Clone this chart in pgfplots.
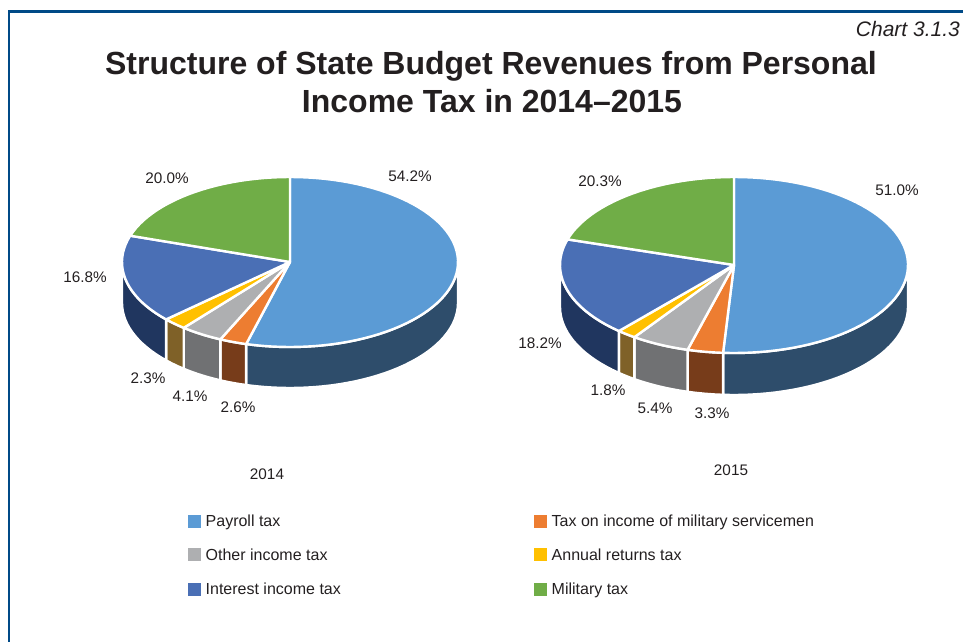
\documentclass[border=0pt]{standalone}
\usepackage{pgfplots}
\pgfplotsset{compat=1.18}
\usepackage{fontspec}
\setmainfont{Liberation Sans}

\definecolor{ink}{HTML}{231F20}
\definecolor{frame}{HTML}{004A87}
\definecolor{top1}{HTML}{5B9BD5}\definecolor{side1}{HTML}{2E4D6B}
\definecolor{top2}{HTML}{ED7D31}\definecolor{side2}{HTML}{773C1A}
\definecolor{top3}{HTML}{AEAFB1}\definecolor{side3}{HTML}{707173}
\definecolor{top4}{HTML}{FFC000}\definecolor{side4}{HTML}{7F6128}
\definecolor{top5}{HTML}{4A6FB5}\definecolor{side5}{HTML}{20365F}
\definecolor{top6}{HTML}{70AD47}\definecolor{side6}{HTML}{70AD47}

% Shares of personal income tax revenue, percent
\def\sharesA{54.2,2.6,4.1,2.3,16.8,20.0}
\def\sharesB{51.0,3.3,5.4,1.8,18.2,20.3}

% Append an elliptical arc to \ptlist: cx, cy, rx, ry, from, to, vertical offset
\newcommand{\appendArc}[7]{%
  \pgfmathtruncatemacro\nseg{max(1,ceil(abs(#6-#5)/3))}%
  \foreach \i in {0,...,\nseg}{%
    \pgfmathsetmacro\ang{#5+(#6-(#5))*\i/\nseg}%
    \pgfmathsetmacro\px{#1+#3*sin(\ang)}%
    \pgfmathsetmacro\py{#2-#4*cos(\ang)+#7}%
    \xdef\ptlist{\ptlist (\px,\py)}%
  }%
}
\newcommand{\plotPolygon}[1]{%
  \edef\doplot{\noexpand\addplot[fill=#1,draw=white,line width=2.4pt,line join=round]
    coordinates {\ptlist} -- cycle;}%
  \doplot
}
% Extruded pie: cx, cy, rx, ry, depth, shares
\newcommand{\drawPie}[6]{%
  \gdef\cum{0}%
  \foreach \v [count=\k] in #6{%
    \pgfmathsetmacro\ta{\cum*3.6}%
    \pgfmathsetmacro\tb{(\cum+\v)*3.6}%
    \pgfmathparse{\cum+\v}\xdef\cum{\pgfmathresult}%
    \pgfmathsetmacro\sa{max(\ta,90)}%
    \pgfmathsetmacro\sb{min(\tb,270)}%
    \pgfmathparse{\sb>\sa?1:0}%
    \ifdim\pgfmathresult pt>0.5pt
      \gdef\ptlist{}%
      \appendArc{#1}{#2}{#3}{#4}{\sa}{\sb}{0}%
      \appendArc{#1}{#2}{#3}{#4}{\sb}{\sa}{#5}%
      \plotPolygon{side\k}%
    \fi
  }%
  \gdef\cum{0}%
  \foreach \v [count=\k] in #6{%
    \pgfmathsetmacro\ta{\cum*3.6}%
    \pgfmathsetmacro\tb{(\cum+\v)*3.6}%
    \pgfmathparse{\cum+\v}\xdef\cum{\pgfmathresult}%
    \xdef\ptlist{(#1,#2)}%
    \appendArc{#1}{#2}{#3}{#4}{\ta}{\tb}{0}%
    \plotPolygon{top\k}%
  }%
}

\tikzset{
  lbl/.style={text=ink,inner sep=0pt,font=\fontsize{15.3}{18}\selectfont},
  key/.style={text=ink,inner sep=0pt,anchor=base west,font=\fontsize{16}{19}\selectfont},
  ttl/.style={text=ink,inner sep=0pt,anchor=base,font=\fontsize{32}{38}\selectfont\bfseries},
  swatch/.style={only marks,mark=square*,mark size=5.8pt,mark options={draw=#1,fill=#1}}
}

\begin{document}
\begin{tikzpicture}[x=1pt,y=1pt]
\useasboundingbox (0,0) rectangle (963,642);
\begin{axis}[
  width=963pt,height=642pt,scale only axis,hide axis,clip=false,
  xmin=0,xmax=963,ymin=0,ymax=642,y dir=reverse
]
  % outer frame
  \addplot[frame,no marks,line width=2.6pt,line join=miter] coordinates {(9,642) (9,11.5) (963,11.5)};

  \drawPie{290}{262}{168}{85}{41}{\sharesA}
  \drawPie{734}{265}{174}{88}{42}{\sharesB}

  % key swatches
  \addplot[swatch=top1] coordinates {(194,521)};
  \addplot[swatch=top3] coordinates {(194,554)};
  \addplot[swatch=top5] coordinates {(194,589)};
  \addplot[swatch=top2] coordinates {(540,521)};
  \addplot[swatch=top4] coordinates {(540,554)};
  \addplot[swatch=top6] coordinates {(540,589)};

  \node[key] at (axis cs:205.5,526.5) {Payroll tax};
  \node[key] at (axis cs:205.5,560) {Other income tax};
  \node[key] at (axis cs:205.5,594) {Interest income tax};
  \node[key] at (axis cs:551.5,526.5) {Tax on income of military servicemen};
  \node[key] at (axis cs:551.5,560) {Annual returns tax};
  \node[key] at (axis cs:551.5,594) {Military tax};

  % titles
  \node[ttl] at (axis cs:491,74.5) {Structure of State Budget Revenues from Personal};
  \node[ttl] at (axis cs:492,112.5) {Income Tax in 2014–2015};
  \node[lbl,anchor=base east,font=\fontsize{21}{24}\selectfont\itshape] at (axis cs:960,37) {Chart 3.1.3};

  % share labels, 2014
  \node[lbl] at (axis cs:410,176) {54.2\%};
  \node[lbl] at (axis cs:167,178) {20.0\%};
  \node[lbl] at (axis cs:85,277) {16.8\%};
  \node[lbl] at (axis cs:148,378) {2.3\%};
  \node[lbl] at (axis cs:190,396) {4.1\%};
  \node[lbl] at (axis cs:238,407) {2.6\%};
  \node[lbl] at (axis cs:267,474) {2014};
  % share labels, 2015
  \node[lbl] at (axis cs:897,190) {51.0\%};
  \node[lbl] at (axis cs:600,181) {20.3\%};
  \node[lbl] at (axis cs:540,343) {18.2\%};
  \node[lbl] at (axis cs:608,390) {1.8\%};
  \node[lbl] at (axis cs:655,408) {5.4\%};
  \node[lbl] at (axis cs:712,413) {3.3\%};
  \node[lbl] at (axis cs:731,470) {2015};
\end{axis}
\end{tikzpicture}
\end{document}
